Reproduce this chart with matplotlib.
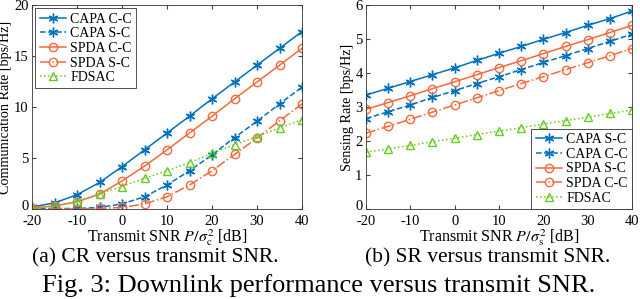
import matplotlib
matplotlib.use("Agg")
import matplotlib.pyplot as plt
import matplotlib.transforms as mtransforms

plt.rcParams['font.family'] = ['Liberation Serif', 'DejaVu Serif']
plt.rcParams['mathtext.fontset'] = 'stix'
plt.rcParams['axes.unicode_minus'] = False

snr = [-20, -15, -10, -5, 0, 5, 10, 15, 20, 25, 30, 35, 40]

# (a) Communication rate
cr_capa_cc = [0.2, 0.6, 1.4, 2.6, 4.15, 5.8, 7.45, 9.1, 10.8, 12.45, 14.1, 15.75, 17.4]
cr_capa_sc = [0.05, 0.05, 0.05, 0.15, 0.5, 1.2, 2.35, 3.75, 5.3, 7.0, 8.6, 10.3, 11.95]
cr_spda_cc = [0.1, 0.3, 0.7, 1.45, 2.75, 4.2, 5.8, 7.45, 9.1, 10.8, 12.45, 14.1, 15.75]
cr_spda_sc = [0.0, 0.0, 0.0, 0.05, 0.15, 0.5, 1.2, 2.35, 3.75, 5.35, 6.95, 8.65, 10.3]
cr_fdsac = [0.1, 0.3, 0.75, 1.5, 2.2, 3.0, 3.75, 4.55, 5.45, 6.3, 7.1, 7.95, 8.75]

# (b) Sensing rate
sr_capa_sc = [3.35, 3.55, 3.75, 3.95, 4.15, 4.37, 4.58, 4.78, 4.99, 5.19, 5.4, 5.6, 5.82]
sr_capa_cc = [2.66, 2.86, 3.06, 3.28, 3.48, 3.69, 3.89, 4.1, 4.31, 4.51, 4.72, 4.93, 5.14]
sr_spda_sc = [2.93, 3.13, 3.33, 3.54, 3.74, 3.95, 4.16, 4.36, 4.57, 4.78, 4.98, 5.19, 5.4]
sr_spda_cc = [2.23, 2.43, 2.64, 2.85, 3.06, 3.27, 3.48, 3.69, 3.89, 4.1, 4.3, 4.51, 4.72]
sr_fdsac = [1.67, 1.77, 1.87, 1.98, 2.08, 2.19, 2.29, 2.39, 2.5, 2.6, 2.7, 2.81, 2.91]

xticks = [-20, -10, 0, 10, 20, 30, 40]

BLUE = '#0072BD'
ORANGE = '#F5693A'
GREEN = '#66CC22'
AST = (6, 2, 0)

fig = plt.figure(figsize=(6.4, 2.99), dpi=100)
axA = fig.add_axes([32/640, 90/299, 270/640, 204/299])
axB = fig.add_axes([366/640, 90/299, 266/640, 204/299])

ms = 6
lw = 1.1

def style(ax):
    ax.set_xlim(-20, 40)
    ax.set_xticks(xticks)
    ax.tick_params(direction='in', labelsize=10.5, length=3, top=True, right=True,
                   color='#444444')
    ax.tick_params(axis='x', pad=4)
    ax.tick_params(axis='y', pad=2.5)
    for s in ax.spines.values():
        s.set_linewidth(0.6)
        s.set_color('#333333')

def lift_zero(ax):
    fig.canvas.draw()
    lab = ax.get_yticklabels()[0]
    off = mtransforms.ScaledTranslation(0, 3/72, fig.dpi_scale_trans)
    lab.set_transform(lab.get_transform() + off)

def legend(ax, loc, pad):
    leg = ax.legend(loc=loc, fontsize=10, frameon=True, fancybox=False, edgecolor='#333333',
                    handlelength=1.9, handletextpad=0.3, borderpad=0.3, labelspacing=0.12,
                    borderaxespad=pad, framealpha=1)
    leg.get_frame().set_linewidth(0.6)

axA.plot(snr, cr_capa_cc, '-', color=BLUE, marker=AST, ms=ms+1, lw=lw, label='CAPA C-C')
axA.plot(snr, cr_capa_sc, '--', color=BLUE, marker=AST, ms=ms+1, lw=lw, label='CAPA S-C')
axA.plot(snr, cr_spda_cc, '-', color=ORANGE, marker='o', ms=ms, mfc='none', lw=lw, label='SPDA C-C')
axA.plot(snr, cr_spda_sc, '-.', color=ORANGE, marker='o', ms=ms, mfc='none', lw=lw, label='SPDA S-C')
axA.plot(snr, cr_fdsac, ':', color=GREEN, marker='^', ms=ms, mfc='none', lw=lw, label='FDSAC')
style(axA)
axA.set_ylim(0, 20)
axA.set_yticks([0, 5, 10, 15, 20])
axA.set_ylabel('Communication Rate [bps/Hz]', fontsize=10.2, labelpad=1)
axA.set_xlabel(r'Transmit SNR $P/\sigma_{\mathrm{c}}^2$ [dB]', fontsize=11.5, labelpad=0)
legend(axA, 'upper left', 0.25)

axB.plot(snr, sr_capa_sc, '-', color=BLUE, marker=AST, ms=ms+1, lw=lw, label='CAPA S-C')
axB.plot(snr, sr_capa_cc, '--', color=BLUE, marker=AST, ms=ms+1, lw=lw, label='CAPA C-C')
axB.plot(snr, sr_spda_sc, '-', color=ORANGE, marker='o', ms=ms, mfc='none', lw=lw, label='SPDA S-C')
axB.plot(snr, sr_spda_cc, '-.', color=ORANGE, marker='o', ms=ms, mfc='none', lw=lw, label='SPDA C-C')
axB.plot(snr, sr_fdsac, ':', color=GREEN, marker='^', ms=ms, mfc='none', lw=lw, label='FDSAC')
style(axB)
axB.set_ylim(0, 6)
axB.set_yticks([0, 1, 2, 3, 4, 5, 6])
axB.set_ylabel('Sensing Rate [bps/Hz]', fontsize=10.2, labelpad=1)
axB.set_xlabel(r'Transmit SNR $P/\sigma_{\mathrm{s}}^2$ [dB]', fontsize=11.5, labelpad=0)
legend(axB, 'lower right', 0.0)

fig.text(155/640, 1 - 258/299, '(a) CR versus transmit SNR.', ha='center', va='center', fontsize=15.5)
fig.text(488/640, 1 - 258/299, '(b) SR versus transmit SNR.', ha='center', va='center', fontsize=15.5)
fig.text(319/640, 1 - 286/299, 'Fig. 3: Downlink performance versus transmit SNR.', ha='center', va='center', fontsize=19)

lift_zero(axA)
lift_zero(axB)

fig.savefig('out.png', dpi=100)
